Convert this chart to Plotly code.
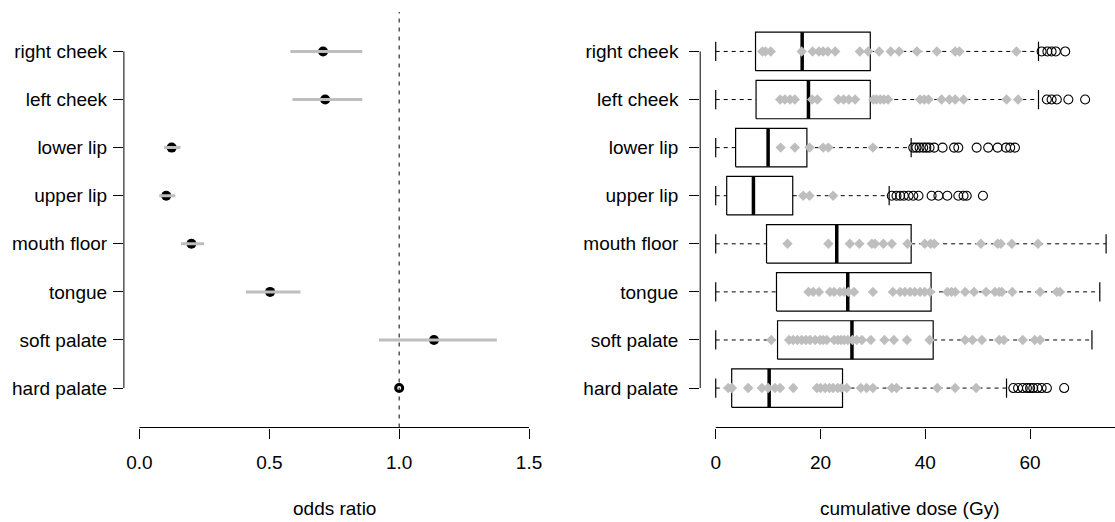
import plotly.graph_objects as go

# ---------------- data ----------------
regions = ["right cheek", "left cheek", "lower lip", "upper lip",
           "mouth floor", "tongue", "soft palate", "hard palate"]

odds_ratio = [0.707, 0.715, 0.124, 0.103, 0.200, 0.503, 1.134, 1.0]
or_lower = [0.581, 0.589, 0.095, 0.076, 0.160, 0.410, 0.922, None]
or_upper = [0.858, 0.858, 0.158, 0.138, 0.249, 0.620, 1.376, None]
reference_region = "hard palate"

or_ticks = [0.0, 0.5, 1.0, 1.5]
or_ticktext = ["0.0", "0.5", "1.0", "1.5"]
dose_ticks = [0, 20, 40, 60, 80]
dose_ticktext = ["0", "20", "40", "60", "80"]

dose_q1 = [7.6, 7.7, 3.8, 2.1, 9.7, 11.6, 11.8, 3.05]
dose_median = [16.5, 17.7, 10.0, 7.2, 23.1, 25.2, 26.0, 10.2]
dose_q3 = [29.5, 29.5, 17.4, 14.7, 37.3, 41.1, 41.5, 24.2]
dose_whisker_low = [0, 0, 0, 0, 0, 0, 0, 0]
dose_whisker_high = [61.6, 61.6, 37.3, 33.1, 74.5, 73.3, 71.8, 55.5]

dose_outliers = [
    [62.2, 63.3, 64.1, 64.9, 66.7],
    [63.2, 64.1, 65.1, 67.3, 70.5],
    [37.7, 38.3, 38.9, 39.6, 40.2, 40.8, 41.7, 43.3, 45.5, 46.3, 49.8, 52.0,
     53.8, 55.4, 56.2, 57.1],
    [33.6, 34.5, 35.2, 35.9, 36.8, 37.7, 38.7, 41.2, 42.5, 44.2, 46.3, 47.3,
     47.9, 51.0],
    [],
    [],
    [],
    [56.8, 57.7, 58.6, 59.4, 60.0, 60.6, 61.4, 62.2, 63.2, 66.5],
]

dose_cases = [
    [8.9, 9.5, 10.5, 16.4, 18.5, 19.7, 20.5, 21.4, 22.8, 27.5, 29.1, 31.2,
     33.4, 35.0, 38.4, 42.2, 45.7, 46.5, 57.4],
    [12.3, 13.2, 14.2, 15.1, 18.4, 19.4, 23.4, 24.4, 25.4, 26.6, 30.1, 30.7,
     31.4, 32.1, 32.9, 39.0, 39.8, 40.6, 43.1, 44.6, 45.7, 47.3, 55.5, 57.7],
    [12.4, 15.1, 17.9, 20.5, 21.5, 30.0],
    [16.7, 17.9, 22.4],
    [13.7, 21.5, 25.6, 27.4, 29.8, 30.4, 32.0, 33.6, 36.6, 39.9, 41.0, 41.7,
     50.6, 53.8, 54.4, 56.5, 61.5],
    [17.7, 18.6, 19.7, 21.8, 22.6, 23.7, 24.5, 25.3, 26.4, 30.0, 33.8, 35.2,
     36.1, 37.1, 38.0, 39.0, 39.9, 40.9, 44.2, 45.0, 45.7, 47.6, 49.3, 51.6,
     53.3, 54.1, 54.6, 56.6, 61.9, 65.1, 65.7],
    [10.6, 14.0, 14.8, 15.6, 16.4, 17.2, 18.0, 19.0, 19.9, 20.5, 21.2, 22.6,
     23.3, 23.9, 24.5, 25.2, 26.1, 26.9, 27.9, 29.6, 32.2, 34.0, 36.5, 40.8,
     47.6, 49.0, 50.8, 54.1, 55.0, 58.6, 60.9, 61.9],
    [2.4, 3.1, 6.2, 8.8, 10.0, 11.3, 12.3, 14.8, 19.3, 20.0, 20.9, 21.7,
     22.4, 23.3, 24.0, 25.0, 27.7, 28.8, 30.0, 33.6, 34.5, 42.3, 45.7, 49.7],
]

# ---------------- layout geometry ----------------
W, H = 1115, 522
FONT = "Liberation Sans, Arial, Helvetica, sans-serif"
FS = 19
GRAY = "#BEBEBE"

n = len(regions)
ypos = [n - i for i in range(n)]
y_range = [0.18, n + 0.82]
y_dom = [(H - 427.5) / H, (H - 12) / H]

x1_range = [-0.06, 1.56]
x1_dom = [123.9 / W, 544.6 / W]
x2_range = [-2.96, 76.2]
x2_dom = [700.2 / W, 1.0]

BOX_HALF = 0.4
STAPLE_HALF = 0.2

fig = go.Figure()

# ---------------- left panel: odds ratios ----------------
pts_x = [v for r, v in zip(regions, odds_ratio) if r != reference_region]
pts_y = [y for r, y in zip(regions, ypos) if r != reference_region]
fig.add_trace(go.Scatter(
    x=pts_x, y=pts_y, mode="markers", xaxis="x", yaxis="y",
    marker=dict(symbol="circle", size=10, color="black"),
    hoverinfo="skip", showlegend=False))

ci_x, ci_y = [], []
for lo, hi, y in zip(or_lower, or_upper, ypos):
    if lo is None:
        continue
    ci_x += [lo, hi, None]
    ci_y += [y, y, None]
fig.add_trace(go.Scatter(
    x=ci_x, y=ci_y, mode="lines", xaxis="x", yaxis="y",
    line=dict(color=GRAY, width=3), hoverinfo="skip", showlegend=False))

ref_i = regions.index(reference_region)
fig.add_trace(go.Scatter(
    x=[odds_ratio[ref_i]], y=[ypos[ref_i]], mode="markers", xaxis="x", yaxis="y",
    marker=dict(symbol="circle-open", size=7, color="black",
                line=dict(width=3, color="black")),
    hoverinfo="skip", showlegend=False))

# ---------------- right panel: boxplots ----------------
box_x, box_y, wh_x, wh_y, st_x, st_y, med_x, med_y = [], [], [], [], [], [], [], []
for i in range(n):
    y = ypos[i]
    q1, q3, md = dose_q1[i], dose_q3[i], dose_median[i]
    lo, hi = dose_whisker_low[i], dose_whisker_high[i]
    box_x += [q1, q3, q3, q1, q1, None]
    box_y += [y - BOX_HALF, y - BOX_HALF, y + BOX_HALF, y + BOX_HALF, y - BOX_HALF, None]
    med_x += [md, md, None]
    med_y += [y - BOX_HALF, y + BOX_HALF, None]
    wh_x += [lo, q1, None, q3, hi, None]
    wh_y += [y, y, None, y, y, None]
    st_x += [lo, lo, None, hi, hi, None]
    st_y += [y - STAPLE_HALF, y + STAPLE_HALF, None, y - STAPLE_HALF, y + STAPLE_HALF, None]

fig.add_trace(go.Scatter(x=wh_x, y=wh_y, mode="lines", xaxis="x2", yaxis="y2",
                         line=dict(color="black", width=1, dash="4px,4px"),
                         hoverinfo="skip", showlegend=False))
fig.add_trace(go.Scatter(x=st_x, y=st_y, mode="lines", xaxis="x2", yaxis="y2",
                         line=dict(color="black", width=1.2),
                         hoverinfo="skip", showlegend=False))
fig.add_trace(go.Scatter(x=box_x, y=box_y, mode="lines", xaxis="x2", yaxis="y2",
                         line=dict(color="black", width=1.2),
                         hoverinfo="skip", showlegend=False))
fig.add_trace(go.Scatter(x=med_x, y=med_y, mode="lines", xaxis="x2", yaxis="y2",
                         line=dict(color="black", width=3.5),
                         hoverinfo="skip", showlegend=False))

ox, oy = [], []
for vals, y in zip(dose_outliers, ypos):
    ox += vals
    oy += [y] * len(vals)
fig.add_trace(go.Scatter(x=ox, y=oy, mode="markers", xaxis="x2", yaxis="y2",
                         marker=dict(symbol="circle-open", size=9, color="black",
                                     line=dict(width=1.1, color="black")),
                         hoverinfo="skip", showlegend=False))

cx, cy = [], []
for vals, y in zip(dose_cases, ypos):
    cx += vals
    cy += [y] * len(vals)
fig.add_trace(go.Scatter(x=cx, y=cy, mode="markers", xaxis="x2", yaxis="y2",
                         marker=dict(symbol="diamond", size=8, color=GRAY),
                         hoverinfo="skip", showlegend=False))

# ---------------- axes ----------------
tickfont = dict(family=FONT, size=FS, color="black")
common_x = dict(showgrid=False, zeroline=False, showline=False, ticks="outside",
                ticklen=10, tickwidth=1, tickcolor="black", tickfont=tickfont,
                ticklabelstandoff=8, fixedrange=True, automargin=False)
common_y = dict(showgrid=False, zeroline=False, showline=False, ticks="outside",
                ticklen=10, tickwidth=1, tickcolor="black", tickfont=tickfont,
                range=y_range, domain=y_dom, tickvals=ypos, ticktext=regions,
                fixedrange=True, automargin=False)

fig.update_layout(
    width=W, height=H, margin=dict(l=0, r=0, t=0, b=0, pad=0),
    paper_bgcolor="white", plot_bgcolor="white",
    font=dict(family=FONT, size=FS, color="black"),
    xaxis=dict(common_x, domain=x1_dom, range=x1_range, anchor="y",
               tickvals=or_ticks, ticktext=or_ticktext),
    yaxis=dict(common_y, anchor="x", ticklabelstandoff=2),
    xaxis2=dict(common_x, domain=x2_dom, range=x2_range, anchor="y2",
                tickvals=dose_ticks, ticktext=dose_ticktext),
    yaxis2=dict(common_y, anchor="x2", ticklabelstandoff=7),
    showlegend=False,
)

shapes = [
    # reference line at odds ratio 1
    dict(type="line", xref="x", yref="y domain", x0=1.0, x1=1.0, y0=0, y1=1,
         line=dict(color="black", width=1, dash="4px,5px")),
    # axis lines (R style: from first to last tick)
    dict(type="line", xref="x", yref="paper", x0=or_ticks[0], x1=or_ticks[-1],
         y0=y_dom[0], y1=y_dom[0], line=dict(color="black", width=1)),
    dict(type="line", xref="paper", yref="y", x0=x1_dom[0], x1=x1_dom[0],
         y0=min(ypos), y1=max(ypos), line=dict(color="black", width=1)),
    dict(type="line", xref="x2", yref="paper", x0=dose_ticks[0],
         x1=min(dose_ticks[-1], x2_range[1]),
         y0=y_dom[0], y1=y_dom[0], line=dict(color="black", width=1)),
    dict(type="line", xref="paper", yref="y2", x0=x2_dom[0], x1=x2_dom[0],
         y0=min(ypos), y1=max(ypos), line=dict(color="black", width=1)),
]
fig.update_layout(shapes=shapes)

title_y = (H - 508) / H
fig.add_annotation(text="odds ratio", xref="paper", yref="paper",
                   x=(x1_dom[0] + x1_dom[1]) / 2, y=title_y,
                   xanchor="center", yanchor="middle", showarrow=False,
                   font=dict(family=FONT, size=FS, color="black"))
fig.add_annotation(text="cumulative dose (Gy)", xref="paper", yref="paper",
                   x=909.6 / W, y=title_y,
                   xanchor="center", yanchor="middle", showarrow=False,
                   font=dict(family=FONT, size=FS, color="black"))

fig.write_html("out.html",
               config={"displayModeBar": False, "staticPlot": True},
               post_script="document.body.style.margin='0px';"
                           "document.body.style.overflow='hidden';")
